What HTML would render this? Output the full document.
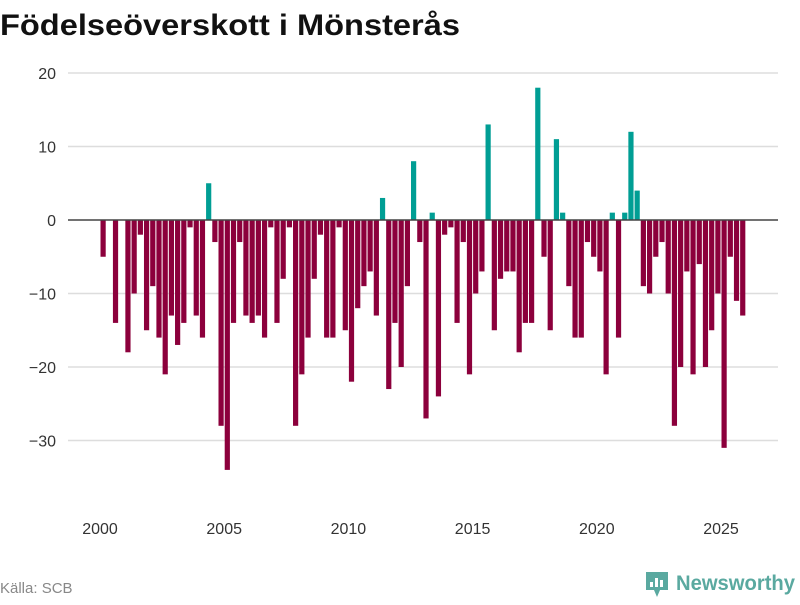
<!DOCTYPE html>
<html><head><meta charset="utf-8"><style>
body{margin:0;background:#fff;width:800px;height:600px;overflow:hidden;font-family:"Liberation Sans",sans-serif}
</style></head><body>
<svg width="800" height="600">
<text x="0" y="35" font-size="30" font-weight="bold" fill="#111" textLength="460" lengthAdjust="spacingAndGlyphs">Födelseöverskott i Mönsterås</text>
<g id="grid"></g>
<g id="bars"></g>
<line x1="68" x2="778" y1="220" y2="220" stroke="#444" stroke-width="1.5"/>
<g id="xt"></g>
<text x="0" y="593" font-size="15" fill="#888">Källa: SCB</text>
<g>
<path d="M646 572 h22 v18 h-8 l-3 7 l-3 -7 h-8 z" fill="#5aa9a0"/>
<rect x="650" y="582" width="3" height="5" fill="#fff"/><rect x="655" y="578" width="3" height="9" fill="#fff"/><rect x="660" y="580" width="3" height="7" fill="#fff"/>
<text x="676" y="590" font-size="21" font-weight="bold" fill="#5aa9a0" textLength="119" lengthAdjust="spacingAndGlyphs">Newsworthy</text>
</g>
</svg>
<script>
const startYear = 2000;
const values = [-5,0,-14,0,-18,-10,-2,-15,-9,-16,-21,-13,-17,-14,-1,-13,-16,5,-3,-28,
-34,-14,-3,-13,-14,-13,-16,-1,-14,-8,-1,-28,-21,-16,-8,-2,-16,-16,-1,-15,
-22,-12,-9,-7,-13,3,-23,-14,-20,-9,8,-3,-27,1,-24,-2,-1,-14,-3,-21,
-10,-7,13,-15,-8,-7,-7,-18,-14,-14,18,-5,-15,11,1,-9,-16,-16,-3,-5,
-7,-21,1,-16,1,12,4,-9,-10,-5,-3,-10,-28,-20,-7,-21,-6,-20,-15,-10,
-31,-5,-11,-13];
const yTicks = [20,10,0,-10,-20,-30];
const xTicks = [2000,2005,2010,2015,2020,2025];
const NS="http://www.w3.org/2000/svg";
const xs = t => 100 + (t-2000)*24.84;
const ys = v => 220 - v*7.35;
const grid=document.getElementById('grid'), bars=document.getElementById('bars'), xt=document.getElementById('xt');
yTicks.forEach(v=>{
  if(v!==0){const l=document.createElementNS(NS,'line');
  l.setAttribute('x1',68);l.setAttribute('x2',778);l.setAttribute('y1',ys(v));l.setAttribute('y2',ys(v));
  l.setAttribute('stroke','#ddd');l.setAttribute('stroke-width','1.5');
  
  
  grid.appendChild(l);}
  const t=document.createElementNS(NS,'text');
  t.setAttribute('x',56);t.setAttribute('y',ys(v)+6);t.setAttribute('text-anchor','end');
  t.setAttribute('font-size','16');t.setAttribute('fill','#333');t.textContent=String(v).replace('-','\u2212');
  
  
  grid.appendChild(t);
});
xTicks.forEach(y=>{
  const t=document.createElementNS(NS,'text');
  t.setAttribute('x',xs(y));t.setAttribute('y',534);t.setAttribute('text-anchor','middle');
  t.setAttribute('font-size','16');t.setAttribute('fill','#333');t.textContent=y;
  
  
  xt.appendChild(t);
});
values.forEach((v,i)=>{
  if(v===0)return;
  const c=xs(startYear+i/4+0.125);
  const r=document.createElementNS(NS,'rect');
  r.setAttribute('x',c-2.6);r.setAttribute('width',5.2);
  r.setAttribute('y',Math.min(ys(v),ys(0)));r.setAttribute('height',Math.abs(ys(v)-ys(0)));
  r.setAttribute('fill',v>0?'#009e94':'#8c003c');
  
  
  bars.appendChild(r);
});
</script>
</body></html>
